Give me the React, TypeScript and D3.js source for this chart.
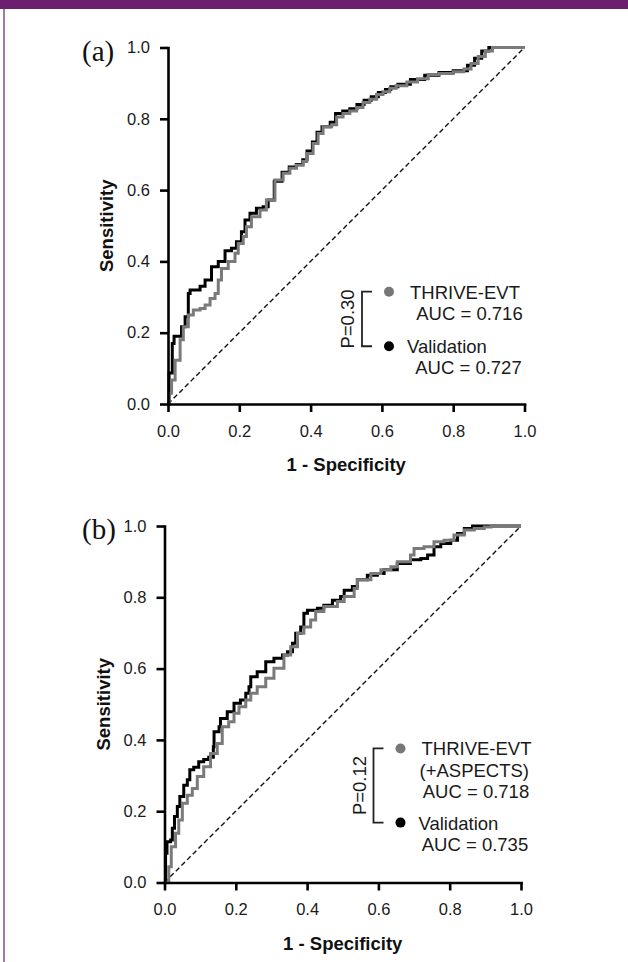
import { useEffect, useRef } from "react";
import { select, scaleLinear, axisLeft, axisBottom, line, curveStepAfter } from "d3";

// ROC points [1 - specificity, sensitivity]
const thriveA = [
  [0, 0], [0.003, 0.03], [0.01, 0.067], [0.02, 0.123], [0.034, 0.18], [0.043, 0.217],
  [0.057, 0.25], [0.071, 0.264], [0.09, 0.268], [0.104, 0.278], [0.118, 0.296],
  [0.132, 0.31], [0.141, 0.348], [0.15, 0.38], [0.169, 0.4], [0.188, 0.423],
  [0.197, 0.45], [0.211, 0.47], [0.22, 0.497], [0.234, 0.525], [0.258, 0.544],
  [0.276, 0.572], [0.3, 0.628], [0.323, 0.647], [0.342, 0.661], [0.36, 0.67],
  [0.379, 0.68], [0.389, 0.703], [0.407, 0.731], [0.421, 0.759], [0.435, 0.778],
  [0.459, 0.783], [0.473, 0.805], [0.491, 0.815], [0.51, 0.822], [0.529, 0.832],
  [0.547, 0.846], [0.566, 0.855], [0.585, 0.868], [0.603, 0.876], [0.622, 0.886],
  [0.64, 0.893], [0.67, 0.903], [0.7, 0.912], [0.73, 0.924], [0.76, 0.927],
  [0.8, 0.932], [0.83, 0.94], [0.85, 0.955], [0.87, 0.975], [0.89, 0.99],
  [0.91, 1], [1, 1],
];

const validA = [
  [0, 0], [0.003, 0.087], [0.012, 0.17], [0.017, 0.19], [0.029, 0.19], [0.038, 0.217],
  [0.048, 0.245], [0.057, 0.31], [0.062, 0.32], [0.09, 0.33], [0.104, 0.348],
  [0.122, 0.385], [0.141, 0.4], [0.16, 0.43], [0.178, 0.437], [0.192, 0.455],
  [0.206, 0.483], [0.216, 0.516], [0.23, 0.535], [0.248, 0.549], [0.267, 0.553],
  [0.281, 0.572], [0.298, 0.625], [0.32, 0.65], [0.34, 0.665], [0.36, 0.672],
  [0.378, 0.685], [0.39, 0.71], [0.405, 0.735], [0.418, 0.762], [0.432, 0.778],
  [0.455, 0.79], [0.47, 0.815], [0.49, 0.822], [0.51, 0.828], [0.53, 0.84],
  [0.55, 0.852], [0.57, 0.862], [0.59, 0.874], [0.61, 0.882], [0.625, 0.89],
  [0.645, 0.897], [0.68, 0.91], [0.72, 0.922], [0.76, 0.93], [0.8, 0.935],
  [0.84, 0.95], [0.86, 0.97], [0.88, 0.99], [0.9, 1], [1, 1],
];

const thriveB = [
  [0, 0], [0.012, 0.044], [0.019, 0.1], [0.031, 0.138], [0.04, 0.175], [0.05, 0.222],
  [0.064, 0.245], [0.078, 0.264], [0.092, 0.297], [0.11, 0.325], [0.129, 0.362],
  [0.148, 0.39], [0.162, 0.437], [0.18, 0.451], [0.195, 0.475], [0.209, 0.493],
  [0.228, 0.512], [0.242, 0.531], [0.26, 0.549], [0.284, 0.573], [0.307, 0.601],
  [0.335, 0.638], [0.354, 0.661], [0.373, 0.699], [0.391, 0.717], [0.41, 0.736],
  [0.424, 0.76], [0.447, 0.774], [0.485, 0.788], [0.504, 0.802], [0.532, 0.825],
  [0.541, 0.849], [0.579, 0.867], [0.607, 0.877], [0.635, 0.886], [0.653, 0.9],
  [0.69, 0.919], [0.7, 0.937], [0.728, 0.942], [0.756, 0.956], [0.784, 0.96],
  [0.812, 0.975], [0.841, 0.989], [0.869, 0.993], [0.897, 0.997], [0.916, 1], [1, 1],
];

const validB = [
  [0, 0], [0.003, 0.082], [0.007, 0.114], [0.017, 0.119], [0.022, 0.152], [0.028, 0.185],
  [0.036, 0.213], [0.043, 0.241], [0.054, 0.273], [0.064, 0.288], [0.071, 0.316],
  [0.082, 0.323], [0.096, 0.339], [0.11, 0.345], [0.124, 0.351], [0.137, 0.381],
  [0.139, 0.423], [0.153, 0.437], [0.157, 0.46], [0.176, 0.479], [0.195, 0.503],
  [0.213, 0.512], [0.228, 0.531], [0.237, 0.549], [0.242, 0.577], [0.26, 0.591],
  [0.284, 0.619], [0.307, 0.629], [0.331, 0.638], [0.345, 0.647], [0.359, 0.671],
  [0.368, 0.699], [0.382, 0.717], [0.391, 0.755], [0.401, 0.764], [0.429, 0.769],
  [0.447, 0.778], [0.471, 0.792], [0.494, 0.802], [0.504, 0.82], [0.527, 0.83],
  [0.541, 0.849], [0.569, 0.862], [0.597, 0.867], [0.616, 0.877], [0.653, 0.895],
  [0.69, 0.905], [0.719, 0.909], [0.738, 0.919], [0.756, 0.942], [0.775, 0.951],
  [0.803, 0.96], [0.822, 0.979], [0.841, 0.993], [0.864, 1], [1, 1],
];

const ticks = [0, 0.2, 0.4, 0.6, 0.8, 1.0];

const panels = [
  {
    tag: "(a)", top: 47.5, left: 168, size: 356.5, thrive: thriveA, valid: validA,
    p: "P=0.30", thriveLabel: ["THRIVE-EVT"], thriveAuc: "AUC = 0.716", validAuc: "AUC = 0.727",
  },
  {
    tag: "(b)", top: 526, left: 164.5, size: 356.5, thrive: thriveB, valid: validB,
    p: "P=0.12", thriveLabel: ["THRIVE-EVT", "(+ASPECTS)"], thriveAuc: "AUC = 0.718", validAuc: "AUC = 0.735",
  },
];

const FONT = "'Liberation Sans', Arial, Helvetica, sans-serif";

function App() {
  const svgRef = useRef(null);

  useEffect(() => {
    const svg = select(svgRef.current);
    svg.selectAll("*").remove();

    // page frame
    svg.append("rect").attr("x", 0).attr("y", 0).attr("width", 628).attr("height", 962).attr("fill", "#fff");
    svg.append("rect").attr("x", 0).attr("y", 0).attr("width", 628).attr("height", 9).attr("fill", "#6b1f6e");
    svg.append("rect").attr("x", 3).attr("y", 9).attr("width", 2).attr("height", 953).attr("fill", "#a07aa4");

    panels.forEach((pn) => {
      const xScale = scaleLinear().domain([0, 1]).range([pn.left, pn.left + pn.size]);
      const yScale = scaleLinear().domain([0, 1]).range([pn.top + pn.size, pn.top]);
      const g = svg.append("g");
      const isB = pn.tag === "(b)";

      // chance line
      g.append("line")
        .attr("x1", xScale(0)).attr("y1", yScale(0))
        .attr("x2", xScale(1)).attr("y2", yScale(1))
        .attr("stroke", "#111").attr("stroke-width", 1.4).attr("stroke-dasharray", "5,3");

      const rocLine = line()
        .x((d) => xScale(d[0]))
        .y((d) => yScale(d[1]))
        .curve(curveStepAfter);

      g.append("path").attr("d", rocLine(pn.valid))
        .attr("fill", "none").attr("stroke", "#000").attr("stroke-width", 3);
      g.append("path").attr("d", rocLine(pn.thrive))
        .attr("fill", "none").attr("stroke", "#7a7a7a").attr("stroke-width", 3);

      // axes
      const yAxis = axisLeft(yScale).tickValues(ticks).tickFormat((v) => v.toFixed(1))
        .tickSize(8).tickSizeOuter(0).tickPadding(10);
      const xAxis = axisBottom(xScale).tickValues(ticks).tickFormat((v) => v.toFixed(1))
        .tickSize(8).tickSizeOuter(0).tickPadding(13);

      [
        g.append("g").attr("transform", `translate(${xScale(0)},0)`).call(yAxis),
        g.append("g").attr("transform", `translate(0,${yScale(0)})`).call(xAxis),
      ].forEach((ax) => {
        ax.selectAll("path, line").attr("stroke", "#000").attr("stroke-width", 2.6);
        ax.selectAll("text").attr("fill", "#1a1a1a").style("font-family", FONT).style("font-size", "16.5px");
        ax.select(".domain").attr("stroke-linecap", "square");
      });

      // axis titles
      g.append("text")
        .attr("transform", `translate(${pn.left - 55},${pn.top + pn.size / 2}) rotate(-90)`)
        .attr("text-anchor", "middle").attr("font-family", FONT).attr("font-weight", "bold")
        .attr("font-size", 18.5).attr("fill", "#111").text("Sensitivity");
      g.append("text")
        .attr("x", pn.left + pn.size / 2).attr("y", pn.top + pn.size + 67)
        .attr("text-anchor", "middle").attr("font-family", FONT).attr("font-weight", "bold")
        .attr("font-size", 18.5).attr("fill", "#111").text("1 - Specificity");

      // panel tag
      g.append("text").attr("x", 82).attr("y", pn.top + 13)
        .attr("font-family", "'Liberation Serif', 'Times New Roman', serif")
        .attr("font-size", 29).attr("fill", "#111").text(pn.tag);

      // legend
      const legX = xScale(0) + 194 + (isB ? 15 : 0);
      const topY = yScale(isB ? 0.376 : 0.315);
      const botY = yScale(isB ? 0.168 : 0.162);
      const right = xScale(0.995) + (isB ? 10 : 0);

      g.append("path")
        .attr("d", `M${legX + 10},${topY}H${legX}V${botY}H${legX + 10}`)
        .attr("fill", "none").attr("stroke", "#222").attr("stroke-width", 1.8);
      g.append("text")
        .attr("transform", `translate(${legX - 8},${(topY + botY) / 2}) rotate(-90)`)
        .attr("text-anchor", "middle").attr("font-family", FONT).attr("font-size", 18.5)
        .attr("fill", "#1a1a1a").text(pn.p);

      g.append("circle").attr("cx", legX + 27).attr("cy", topY).attr("r", 5).attr("fill", "#777");
      g.append("circle").attr("cx", legX + 27).attr("cy", botY).attr("r", 5).attr("fill", "#000");

      pn.thriveLabel.forEach((t, i) => {
        g.append("text").attr("x", legX + 48 - i * 2).attr("y", topY + 7 + i * 22)
          .attr("font-family", FONT).attr("font-size", 18.5).attr("fill", "#1a1a1a").text(t);
      });
      g.append("text").attr("x", right).attr("y", topY + 7 + pn.thriveLabel.length * 22 - 1)
        .attr("text-anchor", "end").attr("font-family", FONT).attr("font-size", 18.5)
        .attr("fill", "#1a1a1a").text(pn.thriveAuc);
      g.append("text").attr("x", legX + 45).attr("y", botY + 7)
        .attr("font-family", FONT).attr("font-size", 18.5).attr("fill", "#1a1a1a").text("Validation");
      g.append("text").attr("x", right - 1).attr("y", botY + 28)
        .attr("text-anchor", "end").attr("font-family", FONT).attr("font-size", 18.5)
        .attr("fill", "#1a1a1a").text(pn.validAuc);
    });
  }, []);

  return (
    <svg
      ref={svgRef}
      width={628}
      height={962}
      style={{ position: "absolute", left: 0, top: 0 }}
    ></svg>
  );
}

export default App;
